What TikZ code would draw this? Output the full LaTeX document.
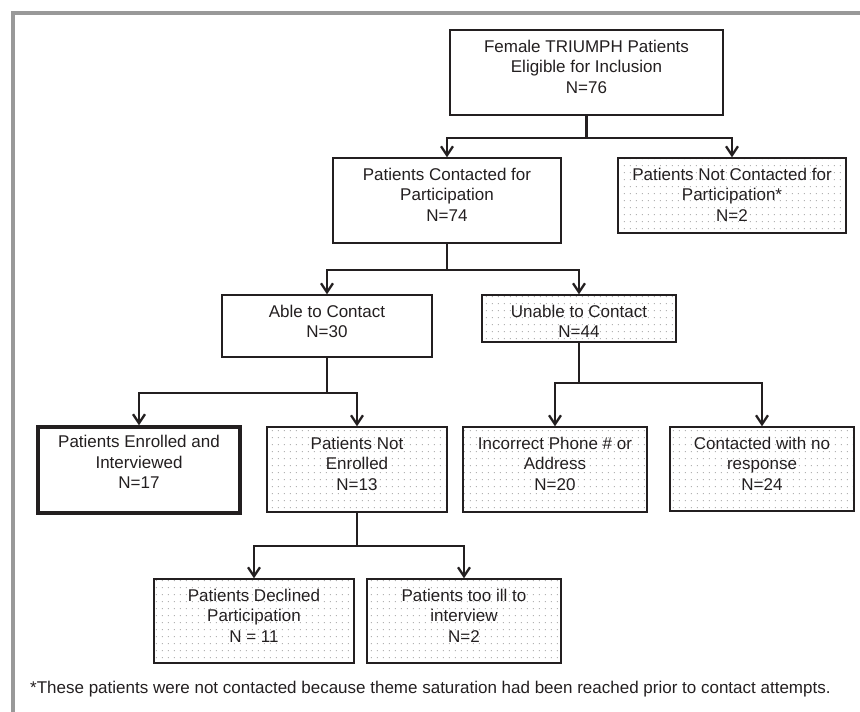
\documentclass[tikz,border=0pt]{standalone}
\usepackage{fontspec}
\setmainfont{Liberation Sans}
\usetikzlibrary{arrows.meta,patterns}
\pgfdeclarepatternformonly{sparsedots}{\pgfpointorigin}{\pgfqpoint{5.5pt}{6.5pt}}{\pgfqpoint{5.5pt}{6.5pt}}{\pgfpathrectangle{\pgfqpoint{2pt}{2pt}}{\pgfqpoint{1pt}{1pt}}\pgfusepath{fill}}
\definecolor{ink}{HTML}{231F20}
\tikzset{
  box/.style={draw=ink, line width=1.3pt, inner sep=0pt, fill=white},
  dotbox/.style={box, pattern=sparsedots, pattern color=black!30},
  thickbox/.style={box, line width=3.5pt},
  txt/.style={anchor=north, inner sep=0pt, align=center, text=ink,
              font=\fontsize{17pt}{20.5pt}\selectfont},
  conn/.style={draw=ink, line width=2.3pt},
  arr/.style={conn, -{Straight Barb[length=9pt,width=12pt,line width=2.3pt]}},
  frame/.style={draw=black!40, line width=4pt},
}
\newcommand{\sk}{\rule{0pt}{13pt}}
\begin{document}
\begin{tikzpicture}[x=1pt,y=-1pt]
\useasboundingbox (0,0) rectangle (860,712);
\draw[frame] (13,714) -- (13,13) -- (862,13);

% boxes
\node[box, minimum width=273, minimum height=85] (b1) at (586.5,72.5) {};
\node[box, minimum width=228, minimum height=85] (b2) at (447,200.5) {};
\node[dotbox, minimum width=228, minimum height=75] (b3) at (732,195.5) {};
\node[box, minimum width=210, minimum height=62] (b4) at (327,326) {};
\node[dotbox, minimum width=194, minimum height=47] (b5) at (579,318.5) {};
\node[thickbox, minimum width=202, minimum height=86] (b6) at (139,470) {};
\node[dotbox, minimum width=180, minimum height=85] (b7) at (357,469.5) {};
\node[dotbox, minimum width=184, minimum height=85] (b8) at (555,469.5) {};
\node[dotbox, minimum width=184, minimum height=84] (b9) at (762,469) {};
\node[dotbox, minimum width=200, minimum height=84] (b10) at (254,621) {};
\node[dotbox, minimum width=194, minimum height=84] (b11) at (464,621) {};

% texts
\node[txt] (t1) at ([yshift=-9.5pt]b1.north) {\sk Female TRIUMPH Patients\\Eligible for Inclusion\\N=76};
\node[txt] (t2) at ([yshift=-9.5pt]b2.north) {\sk Patients Contacted for\\Participation\\N=74};
\node[txt] (t3) at ([yshift=-9.5pt]b3.north) {\sk Patients Not Contacted for\\Participation*\\N=2};
\node[txt] (t4) at ([yshift=-9.5pt]b4.north) {\sk Able to Contact\\N=30};
\node[txt] (t5) at ([yshift=-9.5pt]b5.north) {\sk Unable to Contact\\N=44};
\node[txt] (t6) at ([yshift=-9.5pt]b6.north) {\sk Patients Enrolled and\\Interviewed\\N=17};
\node[txt] (t7) at ([yshift=-9.5pt]b7.north) {\sk Patients Not\\Enrolled\\N=13};
\node[txt] (t8) at ([yshift=-9.5pt]b8.north) {\sk Incorrect Phone \# or\\Address\\N=20};
\node[txt] (t9) at ([yshift=-9.5pt]b9.north) {\sk Contacted with no\\response\\N=24};
\node[txt] (t10) at ([yshift=-9.5pt]b10.north) {\sk Patients Declined\\Participation\\N = 11};
\node[txt] (t11) at ([yshift=-9.5pt]b11.north) {\sk Patients too ill to\\interview\\N=2};

% connectors
\draw[conn] (b1.south) -- ++(0,22) coordinate (j1);
\draw[arr] (j1) -| (b2.north);
\draw[arr] (j1) -| (b3.north);
\draw[conn] (b2.south) -- ++(0,26) coordinate (j2);
\draw[arr] (j2) -| (b4.north);
\draw[arr] (j2) -| (b5.north);
\draw[conn] (b4.south) -- ++(0,35) coordinate (j3);
\draw[arr] (j3) -| (b6.north);
\draw[arr] (j3) -| (b7.north);
\draw[conn] (b5.south) -- ++(0,40) coordinate (j4);
\draw[arr] (j4) -| (b8.north);
\draw[arr] (j4) -| (b9.north);
\draw[conn] (b7.south) -- ++(0,33) coordinate (j5);
\draw[arr] (j5) -| (b10.north);
\draw[arr] (j5) -| (b11.north);

% footnote
\node[anchor=base west, inner sep=0pt, text=ink, font=\fontsize{17pt}{20.5pt}\selectfont] (fn) at (30,693)
  {*These patients were not contacted because theme saturation had been reached prior to contact attempts.};
\end{tikzpicture}
\end{document}
